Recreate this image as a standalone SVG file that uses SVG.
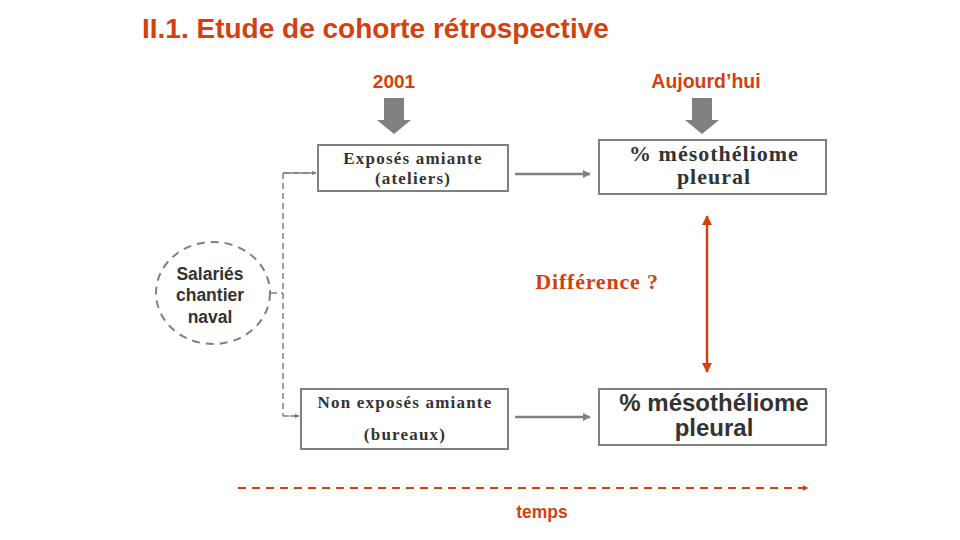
<svg xmlns="http://www.w3.org/2000/svg" width="960" height="540" viewBox="0 0 960 540">
<defs>
<style>
.red{fill:#d4400e}
.sans{font-family:"Liberation Sans",Arial,sans-serif;font-weight:bold}
.serif{font-family:"Liberation Serif","Times New Roman",serif;font-weight:bold}
.box{fill:#fff;stroke:#808080;stroke-width:2}
.dk{fill:#333}
.gconn{stroke:#808080;fill:none}
</style>
<marker id="ga" viewBox="0 0 10 10" refX="9" refY="5" markerWidth="5" markerHeight="5" orient="auto" markerUnits="userSpaceOnUse"><path d="M0,0L10,5L0,10z" fill="#808080"/></marker>
<marker id="gb" viewBox="0 0 10 10" refX="9" refY="5" markerWidth="8" markerHeight="8" orient="auto" markerUnits="userSpaceOnUse"><path d="M0,0L10,5L0,10z" fill="#808080"/></marker>
<marker id="ra" viewBox="0 0 10 10" refX="9" refY="5" markerWidth="10" markerHeight="10" orient="auto-start-reverse" markerUnits="userSpaceOnUse"><path d="M0,0L10,5L0,10z" fill="#d4400e"/></marker>
<marker id="rs" viewBox="0 0 10 10" refX="9" refY="5" markerWidth="6" markerHeight="6" orient="auto" markerUnits="userSpaceOnUse"><path d="M0,0L10,5L0,10z" fill="#d4400e"/></marker>
</defs>
<rect width="960" height="540" fill="#fff"/>
<text x="142" y="38" class="sans red" font-size="28">II.1. Etude de cohorte rétrospective</text>

<g id="label-2001"><text x="394" y="88" class="sans red" font-size="19" text-anchor="middle">2001</text>
<path d="M384,98H404V120H411L394,134L377,120H384Z" fill="#808080"/></g>
<g id="label-aujourdhui"><text x="706" y="88" class="sans red" font-size="19.5" text-anchor="middle">Aujourd’hui</text>
<path d="M692,98H712V120H719L702,134L685,120H692Z" fill="#808080"/></g>

<g id="connectors">
<path d="M271,293H283M283,173V416M283,173H316M283,416H299" class="gconn" stroke-width="1.5" stroke-dasharray="6,4"/>
<path d="M283,173H316" class="gconn" stroke-width="1.5" marker-end="url(#ga)" stroke-dasharray="0"/>
<path d="M290,416H299" class="gconn" stroke-width="1.5" marker-end="url(#ga)"/>
<path d="M515,174H590" class="gconn" stroke-width="2.5" marker-end="url(#gb)"/>
<path d="M515,417H590" class="gconn" stroke-width="2.5" marker-end="url(#gb)"/>
<path d="M707,216V372" stroke="#d4400e" stroke-width="2.5" fill="none" marker-start="url(#ra)" marker-end="url(#ra)"/>
<path d="M238,488H808" stroke="#d4400e" stroke-width="2" stroke-dasharray="8,6" fill="none" marker-end="url(#rs)"/>
</g>

<g id="salaries">
<ellipse cx="213" cy="293" rx="57" ry="51" fill="#fff" stroke="#808080" stroke-width="2" stroke-dasharray="8,6"/>
<text class="sans dk" font-size="17.5" text-anchor="middle"><tspan x="210" y="280">Salariés</tspan><tspan x="210" y="301">chantier</tspan><tspan x="210" y="323">naval</tspan></text>
</g>

<g id="exposes">
<rect x="318" y="145" width="190" height="46" class="box"/>
<text class="serif dk" font-size="17" letter-spacing="1.2" text-anchor="middle"><tspan x="413" y="164">Exposés amiante</tspan><tspan x="413" y="184">(ateliers)</tspan></text>
</g>

<g id="meso-top">
<rect x="599" y="140" width="227" height="54" class="box"/>
<text class="serif dk" font-size="22" letter-spacing="1" text-anchor="middle"><tspan x="714" y="161">% mésothéliome</tspan><tspan x="714" y="184">pleural</tspan></text>
</g>

<g id="non-exposes">
<rect x="301" y="389" width="207" height="60" class="box"/>
<text class="serif dk" font-size="17" letter-spacing="1.2" text-anchor="middle"><tspan x="405" y="408">Non  exposés amiante</tspan><tspan x="405" y="440">(bureaux)</tspan></text>
</g>

<g id="meso-bottom">
<rect x="599" y="389" width="227" height="56" class="box"/>
<text class="sans dk" font-size="24" text-anchor="middle"><tspan x="714" y="411">% mésothéliome</tspan><tspan x="714" y="436">pleural</tspan></text>
</g>

<g id="difference"><text x="597" y="289" class="serif red" font-size="22" letter-spacing="0.8" text-anchor="middle">Différence ?</text></g>
<g id="temps"><text x="542" y="518" class="sans red" font-size="17.5" text-anchor="middle">temps</text></g>
</svg>
